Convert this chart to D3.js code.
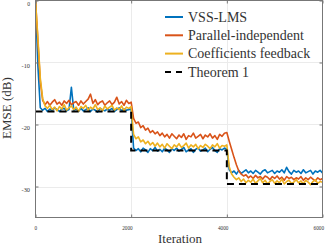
<!DOCTYPE html>
<html>
<head>
<meta charset="utf-8">
<script src="https://d3js.org/d3.v7.min.js"></script>
<style>
  body { margin: 0; background: #fff; }
  svg text { font-family: "Liberation Serif", "DejaVu Serif", serif; fill: #333; }
</style>
</head>
<body>
<svg id="chart"></svg>
<script>
// EMSE curves, one sample every 50 iterations (0 .. 6000)
var iterations = d3.range(0, 6001, 50);

var vssLms = [
  0, -10.5, -17.3, -17.7, -17.4, -17.9, -17.5, -17.8, -17.3, -17.6,
  -17.9, -17.5, -17.4, -17.8, -17.6, -14.0, -17.7, -17.5, -17.9, -17.4,
  -17.8, -17.6, -17.3, -17.9, -17.5, -17.7, -18.0, -17.4, -17.6, -17.8,
  -17.5, -17.7, -17.4, -17.9, -17.6, -17.3, -17.8, -17.5, -17.7, -17.6,
  -17.5, -23.8, -24.2, -23.9, -24.4, -23.8, -24.1, -24.5, -23.9, -24.2,
  -23.7, -24.3, -24.0, -24.4, -23.8, -24.1, -24.5, -23.9, -24.2, -23.8,
  -24.3, -24.0, -23.7, -24.4, -24.1, -23.9, -24.5, -24.0, -23.8, -24.3,
  -24.1, -23.8, -24.4, -24.0, -23.7, -24.2, -24.5, -23.9, -24.1, -23.8,
  -24.0, -27.3, -27.8, -27.5, -28.0, -27.4, -27.9, -27.6, -27.3, -27.8,
  -27.5, -27.9, -27.4, -27.7, -28.0, -27.5, -27.3, -27.8, -27.6, -27.4,
  -27.9, -27.5, -27.7, -27.3, -27.8, -26.9, -27.6, -28.0, -27.4, -27.7,
  -27.5, -27.9, -27.3, -27.8, -27.6, -27.4, -28.0, -27.5, -27.7, -27.4,
  -27.8
];

var parallelIndep = [
  0, -6.5, -13.0, -16.1, -16.8, -16.3, -16.9, -16.4, -16.0, -16.7,
  -16.4, -16.9, -16.2, -16.6, -16.1, -16.8, -16.5, -16.3, -16.9, -16.2,
  -16.7, -16.3, -15.9, -15.1, -16.6, -16.0, -16.8, -16.4, -16.2, -16.9,
  -16.5, -16.2, -16.8, -16.4, -15.6, -16.7, -16.3, -16.9, -16.1, -16.6,
  -16.4, -19.0, -19.8, -19.6, -20.5, -20.2, -20.9, -20.6, -21.3, -21.0,
  -21.5, -21.2, -21.8, -21.4, -22.0, -21.6, -22.2, -21.5, -21.9, -22.3,
  -21.7, -22.1, -21.5, -22.4, -21.8, -22.0, -21.4, -22.2, -21.9, -21.6,
  -22.3, -21.7, -22.0, -21.5, -22.2, -21.8, -22.4, -21.6, -21.9, -21.4,
  -21.3, -22.7, -24.0, -25.3, -26.5, -27.5, -28.0, -28.3, -28.1, -28.6,
  -28.3, -28.7, -28.2, -28.6, -28.4, -28.8, -28.3, -28.5, -28.9, -28.4,
  -28.7, -28.3, -28.8, -28.5, -29.0, -28.4, -28.7, -28.5, -28.9, -28.6,
  -28.8, -28.4, -29.0, -28.6, -28.9, -28.5, -28.8, -29.1, -28.6, -28.9,
  -28.7
];

var coeffFeedback = [
  0, -6.0, -12.5, -15.8, -17.0, -17.4, -16.9, -17.6, -17.2, -17.8,
  -17.1, -17.5, -16.8, -17.7, -17.3, -17.0, -17.6, -17.2, -17.9, -17.1,
  -17.4, -16.9, -17.7, -17.2, -17.5, -16.8, -17.6, -17.3, -17.8, -17.0,
  -17.5, -17.2, -16.9, -17.7, -17.3, -17.6, -17.0, -17.8, -17.2, -17.4,
  -17.1, -21.6, -22.3, -22.0, -22.8, -22.5, -23.1, -22.7, -23.3, -22.9,
  -23.5, -23.0, -23.6, -23.2, -23.8, -23.1, -23.5, -23.9, -23.3, -23.6,
  -23.1, -23.7, -23.4, -23.0, -23.8, -23.3, -23.6, -23.2, -23.9, -23.4,
  -23.7, -23.2, -23.5, -23.9, -23.3, -23.6, -23.1, -23.8, -23.4, -23.5,
  -23.3, -26.8, -28.0, -28.5, -28.9, -28.6, -29.2, -28.8, -29.4, -29.0,
  -29.3, -28.8, -29.5, -29.1, -28.7, -29.4, -29.0, -29.6, -29.2, -28.9,
  -29.5, -29.1, -29.4, -28.8, -29.6, -29.2, -29.0, -29.5, -29.3, -28.9,
  -29.4, -29.1, -29.6, -29.0, -29.3, -29.7, -29.2, -28.9, -29.5, -29.2,
  -29.3
];

// theoretical steady-state EMSE (step curve)
var theoremIter = [0, 2000, 2000, 4000, 4000, 6000];
var theoremEmse = [-17.9, -17.9, -24.2, -24.2, -29.6, -29.6];

var xTicks = [0, 2000, 4000, 6000];
var yTicks = [0, -10, -20, -30];

var seriesNames = ["VSS-LMS", "Parallel-independent", "Coefficients feedback", "Theorem 1"];
var seriesColors = ["#0072bd", "#d95319", "#edb120", "#000000"];

var width = 332, height = 247;
var plot = {left: 35.5, right: 322.5, top: 0.5, bottom: 217.5};

var svg = d3.select("#chart")
    .attr("width", width)
    .attr("height", height);

var xScale = d3.scaleLinear().domain([0, 6000]).range([plot.left, plot.right]);
var yScale = d3.scaleLinear().domain([-35, 0]).range([plot.bottom, plot.top]);

//grid
svg.append("g").selectAll("line")
    .data(yTicks.filter(function(d){ return d > -35 && d < 0; }))
  .enter().append("line")
    .attr("x1", plot.left).attr("x2", plot.right)
    .attr("y1", function(d){ return Math.round(yScale(d)) + 0.5; })
    .attr("y2", function(d){ return Math.round(yScale(d)) + 0.5; })
    .attr("stroke", "#ebebeb");

svg.append("g").selectAll("line")
    .data(xTicks.filter(function(d){ return d > 0 && d < 6000; }))
  .enter().append("line")
    .attr("y1", plot.top).attr("y2", plot.bottom)
    .attr("x1", function(d){ return Math.round(xScale(d)) + 0.5; })
    .attr("x2", function(d){ return Math.round(xScale(d)) + 0.5; })
    .attr("stroke", "#ebebeb");

svg.append("clipPath").attr("id", "clip")
  .append("rect")
    .attr("x", plot.left).attr("y", plot.top)
    .attr("width", plot.right - plot.left)
    .attr("height", plot.bottom - plot.top);

var line = d3.line()
    .x(function(d){ return xScale(d[0]); })
    .y(function(d){ return yScale(d[1]); });

var curves = [vssLms, parallelIndep, coeffFeedback];
var lines = svg.append("g").attr("clip-path", "url(#clip)");

curves.forEach(function(vals, i){
  lines.append("path")
      .datum(iterations.map(function(t, k){ return [t, vals[k]]; }))
      .attr("fill", "none")
      .attr("stroke", seriesColors[i])
      .attr("stroke-width", 1.6)
      .attr("stroke-linejoin", "round")
      .attr("d", line);
});

lines.append("path")
    .datum(theoremIter.map(function(t, k){ return [t, theoremEmse[k]]; }))
    .attr("fill", "none")
    .attr("stroke", seriesColors[3])
    .attr("stroke-width", 2)
    .attr("stroke-dasharray", "7,5")
    .attr("d", line);

// axes, ticks pointing inward like matlab
var axisColor = "#777";

var xAxis = svg.append("g")
    .attr("transform", "translate(0," + plot.bottom + ")")
    .call(d3.axisBottom(xScale).tickValues(xTicks).tickSize(-3).tickFormat(String));
xAxis.selectAll("text")
    .attr("dy", null).attr("y", 12.5).attr("x", 1)
    .attr("text-anchor", "end")
    .style("font-size", "7px")
    .attr("textLength", function(d){ return String(d).length * 2.6; })
    .attr("lengthAdjust", "spacingAndGlyphs");

var yAxis = svg.append("g")
    .attr("transform", "translate(" + plot.left + ",0)")
    .call(d3.axisLeft(yScale).tickValues(yTicks).tickSize(-3).tickFormat(String));
yAxis.selectAll("text")
    .attr("dy", null).attr("y", 4.7).attr("x", -5.5)
    .attr("text-anchor", "end")
    .style("font-size", "7px")
    .attr("textLength", function(d){ return String(d).length * 2.8; })
    .attr("lengthAdjust", "spacingAndGlyphs");

svg.append("g")
    .attr("transform", "translate(0," + plot.top + ")")
    .call(d3.axisTop(xScale).tickValues(xTicks).tickSize(-3).tickFormat(""));
svg.append("g")
    .attr("transform", "translate(" + plot.right + ",0)")
    .call(d3.axisRight(yScale).tickValues(yTicks).tickSize(-3).tickFormat(""));

svg.selectAll(".domain").remove();
svg.selectAll(".tick line").attr("stroke", axisColor);

svg.append("rect")
    .attr("x", plot.left).attr("y", plot.top)
    .attr("width", plot.right - plot.left)
    .attr("height", plot.bottom - plot.top)
    .attr("fill", "none")
    .attr("stroke", axisColor);

//axis titles
svg.append("text")
    .attr("x", 180).attr("y", 243)
    .attr("text-anchor", "middle")
    .style("font-size", "13px")
    .text("Iteration");

svg.append("text")
    .attr("transform", "translate(11,108) rotate(-90)")
    .attr("text-anchor", "middle")
    .style("font-size", "13px")
    .text("EMSE (dB)");

//legend
var legend = svg.append("g").attr("transform", "translate(165,17)");
seriesNames.forEach(function(name, i){
  var row = legend.append("g").attr("transform", "translate(0," + (i * 18.3) + ")");
  row.append("line")
      .attr("x1", 0).attr("x2", 18)
      .attr("stroke", seriesColors[i])
      .attr("stroke-width", 2)
      .attr("stroke-dasharray", i == 3 ? "6,5" : null);
  row.append("text")
      .attr("x", 23).attr("y", 4.6)
      .style("font-size", "14px")
      .text(name);
});
</script>
</body>
</html>
